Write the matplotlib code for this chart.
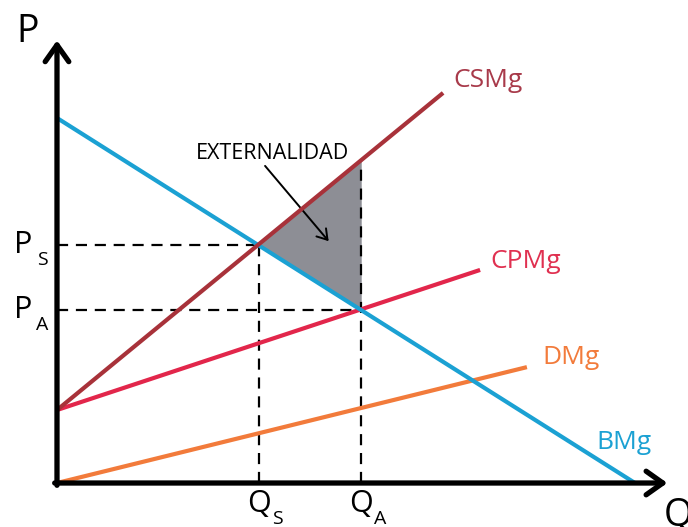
import matplotlib.pyplot as plt
import numpy as np

plt.rcParams['font.family'] = ['Open Sans', 'DejaVu Sans']

# curve end points (Q, P)
bmg_q = [0.0, 10.0]
bmg_p = [8.0, 0.0]
csmg_q = [0.0, 6.68]
csmg_p = [1.6, 8.55]
cpmg_q = [0.0, 7.32]
cpmg_p = [1.6, 4.67]
dmg_q = [0.0, 8.13]
dmg_p = [0.0, 2.54]

# equilibria: social (S) and market (A)
q_s, p_s = 3.49, 5.22
q_a, p_a = 5.26, 3.79

c_bmg = '#1ba1d3'
c_csmg = '#a8323a'
c_cpmg = '#e2264b'
c_dmg = '#f27b3b'

fig = plt.figure(figsize=(6.88, 5.27), dpi=100)
ax = fig.add_axes([0, 0, 1, 1])
ax.set_xlim(-0.986, 10.917)
ax.set_ylim(-0.964, 10.586)
ax.axis('off')

# externality triangle
p_top = np.interp(q_a, csmg_q, csmg_p)
ax.fill([q_s, q_a, q_a], [p_s, p_top, p_a], color='#8d8e95', zorder=1)

# dashed guides
dash = dict(color='black', lw=1.6, ls=(0, (5, 3.5)), zorder=2)
ax.plot([0, q_s], [p_s, p_s], **dash)
ax.plot([q_s, q_s], [0, p_s], **dash)
ax.plot([0, q_a], [p_a, p_a], **dash)
ax.plot([q_a, q_a], [0, p_top], **dash)

# curves
ax.plot(dmg_q, dmg_p, color=c_dmg, lw=3, zorder=3, solid_capstyle='butt')
ax.plot(cpmg_q, cpmg_p, color=c_cpmg, lw=3, zorder=3, solid_capstyle='butt')
ax.plot(bmg_q, bmg_p, color=c_bmg, lw=3, zorder=3, solid_capstyle='butt')
ax.plot(csmg_q, csmg_p, color=c_csmg, lw=3, zorder=4, solid_capstyle='butt')

# axes with open arrow heads
arr = dict(arrowstyle='->,head_length=1.2,head_width=0.85', lw=3.8,
           color='black', shrinkA=0, shrinkB=0)
ax.annotate('', xy=(0, 9.7), xytext=(0, -0.05), arrowprops=arr, zorder=5)
ax.annotate('', xy=(10.56, 0), xytext=(-0.04, 0), arrowprops=arr, zorder=5)

# curve labels
ax.text(6.85, 8.83, 'CSMg', color='#a83a4a', fontsize=19, ha='left', va='center')
ax.text(7.5, 4.85, 'CPMg', color='#e03050', fontsize=19, ha='left', va='center')
ax.text(8.4, 2.75, 'DMg', color=c_dmg, fontsize=19, ha='left', va='center')
ax.text(9.33, 0.88, 'BMg', color=c_bmg, fontsize=19, ha='left', va='center')

# externality note
ax.text(2.4, 7.23, 'EXTERNALIDAD', color='black', fontsize=15.5, ha='left', va='center')
ax.annotate('', xy=(4.7, 5.3), xytext=(3.6, 6.95),
            arrowprops=dict(arrowstyle='->,head_length=0.7,head_width=0.45',
                            lw=1.4, color='black', shrinkA=0, shrinkB=0))

# axis labels
ax.text(-0.5, 9.88, 'P', fontsize=27, ha='center', va='center')
ax.text(10.75, -0.72, 'Q', fontsize=27, ha='center', va='center')

def sub_label(x, y, main, sub):
    ax.text(x, y, main, fontsize=22, ha='center', va='center')
    ax.text(x + 0.33, y - 0.33, sub, fontsize=14, ha='center', va='center')

sub_label(-0.58, p_s, 'P', 'S')
sub_label(-0.58, p_a, 'P', 'A')
sub_label(q_s, -0.46, 'Q', 'S')
sub_label(q_a, -0.46, 'Q', 'A')

fig.savefig('out.png', dpi=100)
